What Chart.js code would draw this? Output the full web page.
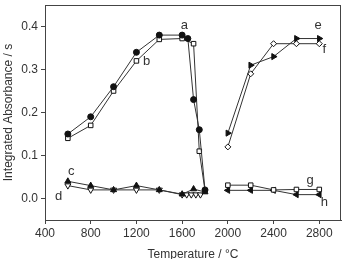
<!DOCTYPE html>
<html>
<head>
<meta charset="utf-8">
<script src="https://cdn.jsdelivr.net/npm/chart.js@4/dist/chart.umd.min.js"></script>
<style>
  html, body { margin: 0; padding: 0; background: #fff; }
  #wrap { width: 346px; height: 259px; }
</style>
</head>
<body>
<div id="wrap"><canvas id="chart"></canvas></div>
<script>
// data (temperature in °C, integrated absorbance in s)
const aX = [600, 800, 1000, 1200, 1400, 1600, 1650, 1700, 1750, 1800];
const aY = [0.15, 0.19, 0.26, 0.34, 0.38, 0.38, 0.372, 0.23, 0.16, 0.02];
const bX = [600, 800, 1000, 1200, 1400, 1600, 1700, 1750, 1800];
const bY = [0.14, 0.17, 0.25, 0.32, 0.37, 0.372, 0.36, 0.11, 0.018];
const cX = [600, 800, 1000, 1200, 1400, 1600, 1700, 1800];
const cY = [0.04, 0.03, 0.02, 0.03, 0.02, 0.01, 0.022, 0.015];
const dX = [600, 800, 1000, 1200, 1400, 1600, 1640, 1680, 1720, 1760];
const dY = [0.03, 0.02, 0.02, 0.02, 0.02, 0.009, 0.009, 0.009, 0.009, 0.009];
const eX = [2000, 2200, 2400, 2600, 2800];
const eY = [0.152, 0.31, 0.33, 0.372, 0.372];
const fX = [2000, 2200, 2400, 2600, 2800];
const fY = [0.12, 0.29, 0.36, 0.36, 0.36];
const gX = [2000, 2200, 2400, 2600, 2800];
const gY = [0.031, 0.031, 0.02, 0.021, 0.021];
const hX = [2000, 2200, 2400, 2600, 2800];
const hY = [0.019, 0.019, 0.019, 0.009, 0.009];

const xTicks = [400, 800, 1200, 1600, 2000, 2400, 2800];
const yTicks = [0.0, 0.1, 0.2, 0.3, 0.4];

// curve letters and where they sit (data units)
const labelText = ['a', 'b', 'c', 'd', 'e', 'f', 'g', 'h'];
const labelX = [1620, 1290, 630, 520, 2790, 2845, 2720, 2845];
const labelY = [0.402, 0.318, 0.062, 0.004, 0.402, 0.346, 0.043, -0.01];

function pts(xs, ys) {
    return xs.map((x, i) => ({x: x, y: ys[i]}));
}

function series(xs, ys, style, fill, rot, r) {
    return {
        data: pts(xs, ys),
        borderColor: '#333',
        borderWidth: 1,
        pointStyle: style,
        pointRotation: rot || 0,
        pointRadius: r || 3,
        pointBackgroundColor: fill ? '#111' : '#fff',
        pointBorderColor: '#111',
        pointBorderWidth: 1,
        tension: 0
    };
}

const letters = {
    id: 'letters',
    afterDatasetsDraw(chart) {
        let ctx = chart.ctx;
        let sx = chart.scales.x, sy = chart.scales.y;
        ctx.save();
        ctx.fillStyle = '#333';
        ctx.font = '13px "Liberation Sans", Arial, sans-serif';
        ctx.textAlign = 'center';
        ctx.textBaseline = 'middle';
        labelText.forEach((t, i) => {
            ctx.fillText(t, sx.getPixelForValue(labelX[i]), sy.getPixelForValue(labelY[i]));
        });
        // frame round the plot
        let a = chart.chartArea;
        ctx.strokeStyle = '#444';
        ctx.lineWidth = 1;
        ctx.strokeRect(a.left + 0.5, a.top + 0.5, a.right - a.left - 1, a.bottom - a.top);
        ctx.restore();
    }
};

Chart.defaults.font.family = '"Liberation Sans", Arial, sans-serif';
Chart.defaults.color = '#333';

let ctx = document.getElementById('chart').getContext('2d');
new Chart(ctx, {
    type: 'line',
    data: {
        datasets: [
            series(aX, aY, 'circle', true, 0, 3),
            series(bX, bY, 'rect', false, 0, 3.2),
            series(cX, cY, 'triangle', true, 0, 3.5),
            series(dX, dY, 'triangle', false, 180, 3.5),
            series(eX, eY, 'triangle', true, 90, 3.5),
            series(fX, fY, 'rectRot', false, 0, 3),
            series(gX, gY, 'rect', false, 0, 3.2),
            series(hX, hY, 'triangle', true, -90, 3.5)
        ]
    },
    options: {
        responsive: true,
        maintainAspectRatio: false,
        animation: false,
        layout: {padding: {top: 3, right: 5, left: 0, bottom: 0}},
        plugins: {legend: {display: false}, tooltip: {enabled: false}},
        scales: {
            x: {
                type: 'linear',
                min: 400,
                max: 2990,
                afterBuildTicks: s => { s.ticks = xTicks.map(v => ({value: v})); },
                afterFit: s => { s.height = 39; s.paddingLeft = 0; s.paddingRight = 0; },
                grid: {display: true, drawOnChartArea: false, drawTicks: true, tickLength: 4, color: '#444'},
                border: {display: true, color: '#444'},
                ticks: {font: {size: 12}, padding: 2, maxRotation: 0, callback: v => String(v)},
                title: {display: true, text: 'Temperature / °C', font: {size: 12}, padding: {top: 0, bottom: -3}}
            },
            y: {
                type: 'linear',
                min: -0.05,
                max: 0.45,
                afterBuildTicks: s => { s.ticks = yTicks.map(v => ({value: v})); },
                afterFit: s => { s.width = 45; s.paddingTop = 0; s.paddingBottom = 0; },
                grid: {display: true, drawOnChartArea: false, drawTicks: true, tickLength: 4, color: '#444'},
                border: {display: true, color: '#444'},
                ticks: {font: {size: 12}, padding: 3, callback: v => v.toFixed(1)},
                title: {display: true, text: 'Integrated Absorbance / s', font: {size: 12}, padding: {top: 1, bottom: 2}}
            }
        }
    },
    plugins: [letters]
});
</script>
</body>
</html>
